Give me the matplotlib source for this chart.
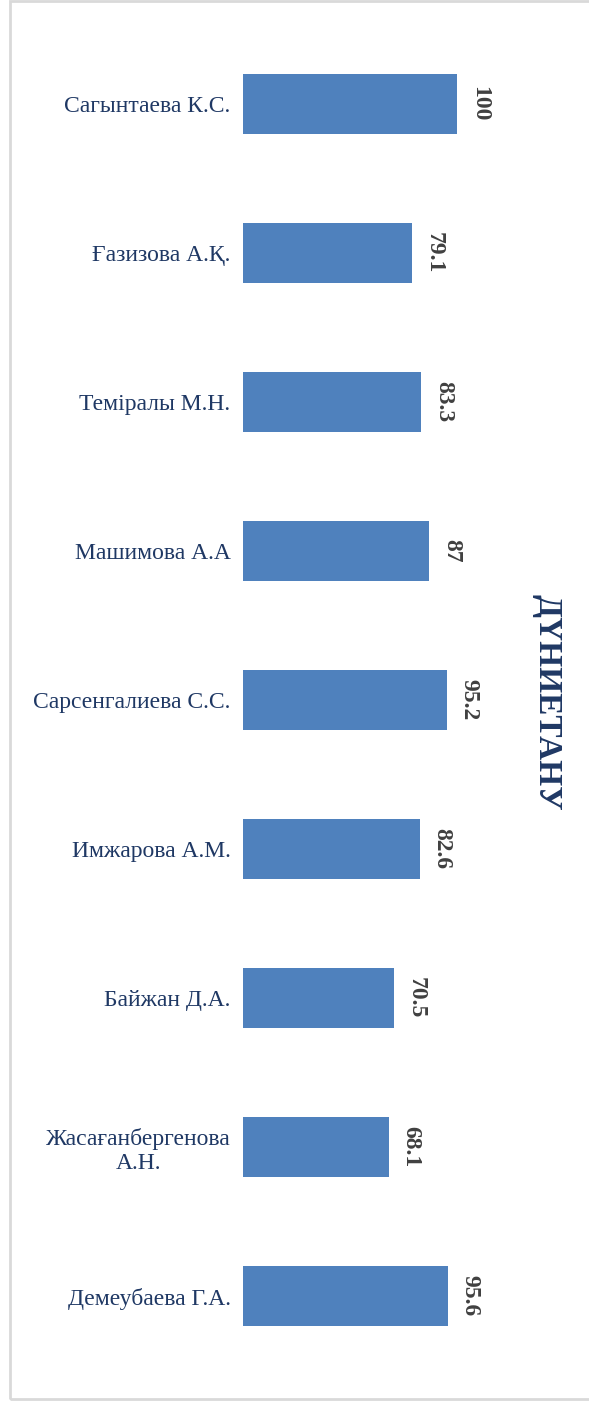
import matplotlib
matplotlib.use("Agg")
import matplotlib.pyplot as plt
from matplotlib.patches import Rectangle

names = ["Сагынтаева К.С.", "Ғазизова А.Қ.", "Теміралы М.Н.", "Машимова А.А",
         "Сарсенгалиева С.С.", "Имжарова А.М.", "Байжан Д.А.",
         "Жасағанбергенова\nА.Н.", "Демеубаева Г.А."]
values = [100, 79.1, 83.3, 87, 95.2, 82.6, 70.5, 68.1, 95.6]
labels = ["100", "79.1", "83.3", "87", "95.2", "82.6", "70.5", "68.1", "95.6"]
title = "ДҮНИЕТАНУ"

plt.rcParams['font.family'] = ['Liberation Serif', 'DejaVu Serif']

W, H = 589, 1403
fig = plt.figure(figsize=(W / 100, H / 100), dpi=100)
fig.patch.set_facecolor('white')

# light grey frame round the chart (right edge falls outside the image)
fig.add_artist(Rectangle((10 / W, 1 - 1399 / H), 1.0, (1398) / H,
                         transform=fig.transFigure, fill=False,
                         edgecolor='#D9D9D9', linewidth=2))

# axes placed so that x=0 sits at pixel 243 and 100 at pixel 457
x_max = 130
left = 243 / W
width = 2.14 * x_max / W
top = 29.5
bottom = 1370.5
ax = fig.add_axes([left, 1 - bottom / H, width, (bottom - top) / H])

pos = list(range(len(names)))
ax.barh(pos, values, height=0.4, color='#4F81BD')
ax.set_xlim(0, x_max)
ax.set_ylim(len(names) - 0.5, -0.5)

ax.set_yticks(pos)
ax.set_yticklabels(names, fontsize=17, color='#1F3864', ha='right',
                   multialignment='center')
ax.tick_params(axis='y', length=0, pad=9)
ax.set_xticks([])
for s in ax.spines.values():
    s.set_visible(False)

for p, v, lab in zip(pos, values, labels):
    ax.annotate(lab, (v, p), xytext=(16, 0), textcoords='offset points',
                rotation=-90, ha='center', va='center', fontsize=17,
                fontweight='bold', color='#404040')

fig.text(547 / W, 1 - 702 / H, title, rotation=-90, ha='center', va='center',
         fontsize=24, fontweight='bold', color='#1F3864')

fig.savefig('out.png', dpi=100, facecolor='white')
